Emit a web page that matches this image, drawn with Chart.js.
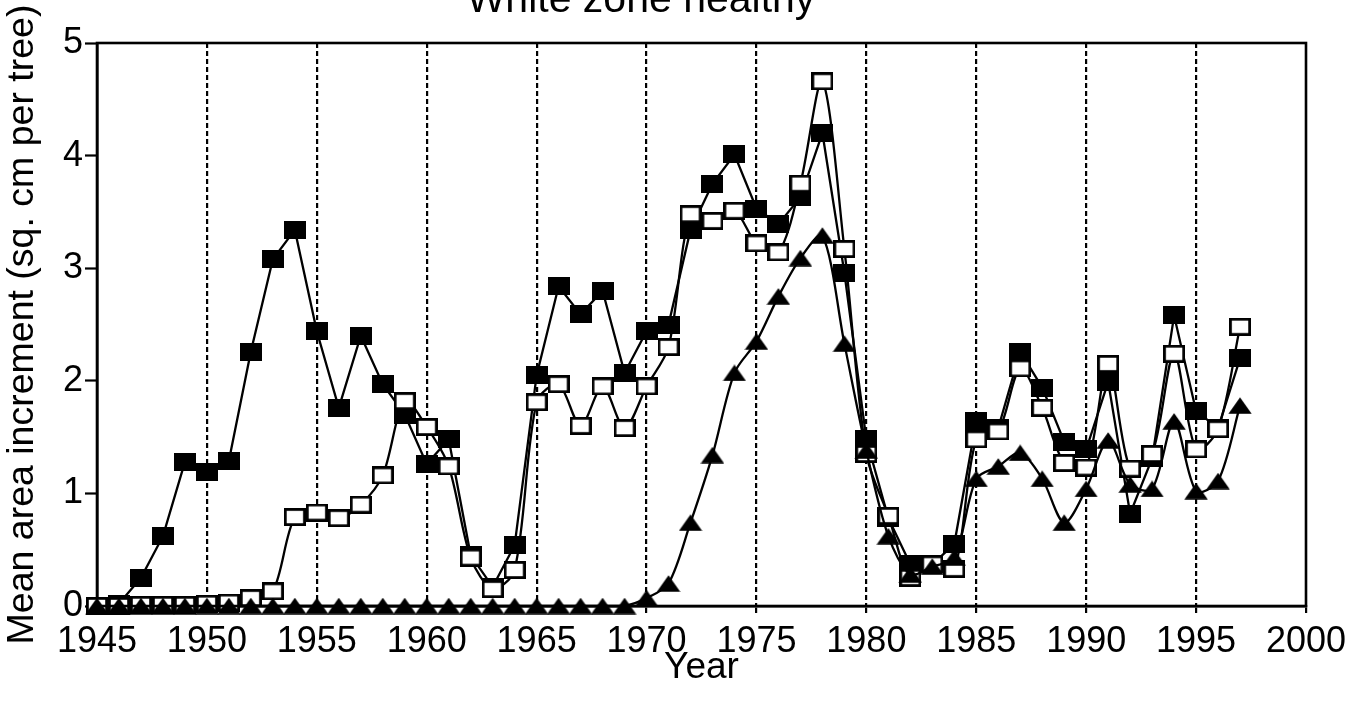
<!DOCTYPE html>
<html>
<head>
<meta charset="utf-8">
<title>White zone healthy</title>
<script src="https://cdn.jsdelivr.net/npm/chart.js@4/dist/chart.umd.min.js"></script>
<style>
  html, body { margin: 0; padding: 0; background: #fff; }
  #wrap { width: 1365px; height: 705px; position: relative; }
</style>
</head>
<body>
<div id="wrap"><canvas id="c"></canvas></div>
<script>
// Years of growth record
const years = [
  1945, 1946, 1947, 1948, 1949, 1950, 1951, 1952, 1953, 1954,
  1955, 1956, 1957, 1958, 1959, 1960, 1961, 1962, 1963, 1964,
  1965, 1966, 1967, 1968, 1969, 1970, 1971, 1972, 1973, 1974,
  1975, 1976, 1977, 1978, 1979, 1980, 1981, 1982, 1983, 1984,
  1985, 1986, 1987, 1988, 1989, 1990, 1991, 1992, 1993, 1994,
  1995, 1996, 1997
];

// Mean area increment (sq. cm per tree), filled squares
const filledSquares = [
  0.00, 0.02, 0.25, 0.62, 1.28, 1.19, 1.29, 2.26, 3.08, 3.34,
  2.44, 1.76, 2.40, 1.97, 1.70, 1.26, 1.48, 0.45, 0.17, 0.54,
  2.05, 2.84, 2.59, 2.80, 2.07, 2.44, 2.50, 3.34, 3.75, 4.01,
  3.53, 3.39, 3.63, 4.20, 2.96, 1.48, 0.78, 0.37, 0.37, 0.55,
  1.64, 1.58, 2.26, 1.94, 1.46, 1.39, 1.99, 0.82, 1.31, 2.58,
  1.73, 1.58, 2.20
];

// Mean area increment, open squares
const openSquares = [
  0.00, 0.00, 0.01, 0.01, 0.01, 0.02, 0.03, 0.07, 0.13, 0.79,
  0.83, 0.78, 0.90, 1.16, 1.82, 1.59, 1.24, 0.43, 0.15, 0.32,
  1.81, 1.97, 1.60, 1.95, 1.58, 1.95, 2.30, 3.48, 3.42, 3.51,
  3.22, 3.14, 3.75, 4.66, 3.17, 1.35, 0.80, 0.25, 0.37, 0.33,
  1.48, 1.55, 2.11, 1.76, 1.27, 1.23, 2.15, 1.22, 1.35, 2.24,
  1.39, 1.57, 2.48
];

// Mean area increment, filled triangles
const triangles = [
  0.00, 0.00, 0.00, 0.00, 0.00, 0.00, 0.00, 0.00, 0.00, 0.00,
  0.00, 0.00, 0.00, 0.00, 0.00, 0.00, 0.00, 0.00, 0.00, 0.00,
  0.00, 0.00, 0.00, 0.00, 0.00, 0.07, 0.20, 0.74, 1.34, 2.07,
  2.35, 2.75, 3.09, 3.29, 2.33, 1.38, 0.62, 0.28, 0.35, 0.43,
  1.13, 1.24, 1.36, 1.13, 0.74, 1.04, 1.47, 1.08, 1.04, 1.64,
  1.02, 1.11, 1.78
];

const yTicks = [0, 1, 2, 3, 4, 5];
const xTicks = [1945, 1950, 1955, 1960, 1965, 1970, 1975, 1980, 1985, 1990, 1995, 2000];

const FONT = "'Liberation Sans', Arial, Helvetica, sans-serif";

// Marker images (slightly wider than tall, as in the printed figure)
function squareMarker(filled) {
  const c = document.createElement('canvas');
  c.width = 22; c.height = 18;
  const g = c.getContext('2d');
  if (filled) {
    g.fillStyle = '#000';
    g.fillRect(0, 0, 22, 18);
  } else {
    g.fillStyle = '#fff';
    g.fillRect(0, 0, 22, 18);
    g.strokeStyle = '#000';
    g.lineWidth = 2.8;
    g.strokeRect(1.4, 1.4, 19.2, 15.2);
  }
  return c;
}
function triangleMarker() {
  const c = document.createElement('canvas');
  c.width = 24; c.height = 17;
  const g = c.getContext('2d');
  g.fillStyle = '#000';
  g.beginPath();
  g.moveTo(12, 0.3);
  g.lineTo(23.7, 16.7);
  g.lineTo(0.3, 16.7);
  g.closePath();
  g.fill();
  return c;
}

const toPoints = vals => years.map((yr, i) => ({ x: yr, y: vals[i] }));

// Solid frame round the plot area, plus the heading
const framePlugin = {
  id: 'frame',
  beforeDatasetsDraw(chart) {
    const { ctx, chartArea: a } = chart;
    ctx.save();
    ctx.strokeStyle = '#000';
    ctx.lineWidth = 2.6;
    ctx.setLineDash([]);
    ctx.strokeRect(a.left, a.top, a.right - a.left, a.bottom - a.top);
    ctx.restore();
  },
  afterDraw(chart) {
    const { ctx } = chart;
    ctx.save();
    ctx.fillStyle = '#000';
    ctx.font = '41px ' + FONT;
    ctx.textAlign = 'center';
    ctx.textBaseline = 'alphabetic';
    ctx.fillText('White zone healthy', 641, 12);
    ctx.restore();
  }
};

const isEdge = v => v === 1945 || v === 2000;

new Chart(document.getElementById('c'), {
  type: 'line',
  data: {
    datasets: [
      {
        label: 'Triangles',
        data: toPoints(triangles),
        borderColor: '#000',
        borderWidth: 2.3,
        tension: 0.3,
        pointStyle: triangleMarker(),
        pointRadius: 10,
        clip: false
      },
      {
        label: 'Open squares',
        data: toPoints(openSquares),
        borderColor: '#000',
        borderWidth: 2.3,
        tension: 0.3,
        pointStyle: squareMarker(false),
        pointRadius: 10,
        clip: false
      },
      {
        label: 'Filled squares',
        data: toPoints(filledSquares),
        borderColor: '#000',
        borderWidth: 2.3,
        tension: 0,
        pointStyle: squareMarker(true),
        pointRadius: 10,
        clip: false
      }
    ]
  },
  options: {
    responsive: true,
    maintainAspectRatio: false,
    animation: false,
    events: [],
    layout: { padding: { top: 43, right: 59, left: 0, bottom: 0 } },
    plugins: {
      legend: { display: false },
      tooltip: { enabled: false },
      title: { display: false }
    },
    scales: {
      x: {
        type: 'linear',
        min: 1945,
        max: 2000,
        afterBuildTicks: s => { s.ticks = xTicks.map(v => ({ value: v })); },
        afterFit: s => { s.height = 99; },
        ticks: {
          color: '#000',
          font: { family: FONT, size: 36 },
          padding: 7,
          maxRotation: 0,
          autoSkip: false,
          callback: v => String(v)
        },
        grid: {
          drawOnChartArea: true,
          color: c => (c.tick && isEdge(c.tick.value)) ? 'rgba(0,0,0,0)' : '#000',
          lineWidth: 2.2,
          tickLength: 7,
          tickColor: '#000',
          tickWidth: 2.2,
          tickBorderDash: []
        },
        border: { display: true, color: '#000', width: 2.6, dash: [5, 3] },
        title: {
          display: true,
          text: 'Year',
          color: '#000',
          font: { family: FONT, size: 37 },
          padding: { top: 0, bottom: 15 }
        }
      },
      y: {
        min: 0,
        max: 5,
        afterBuildTicks: s => { s.ticks = yTicks.map(v => ({ value: v })); },
        afterFit: s => { s.width = 97; },
        ticks: {
          color: '#000',
          font: { family: FONT, size: 36 },
          padding: 2,
          callback: v => String(v)
        },
        grid: {
          drawOnChartArea: false,
          tickLength: 12,
          tickColor: '#000',
          tickWidth: 2.2
        },
        border: { display: true, color: '#000', width: 2.6 },
        title: {
          display: true,
          text: 'Mean area increment (sq. cm per tree)',
          color: '#000',
          font: { family: FONT, size: 37.5 },
          padding: { top: 0, bottom: 0 }
        }
      }
    }
  },
  plugins: [framePlugin]
});
</script>
</body>
</html>
